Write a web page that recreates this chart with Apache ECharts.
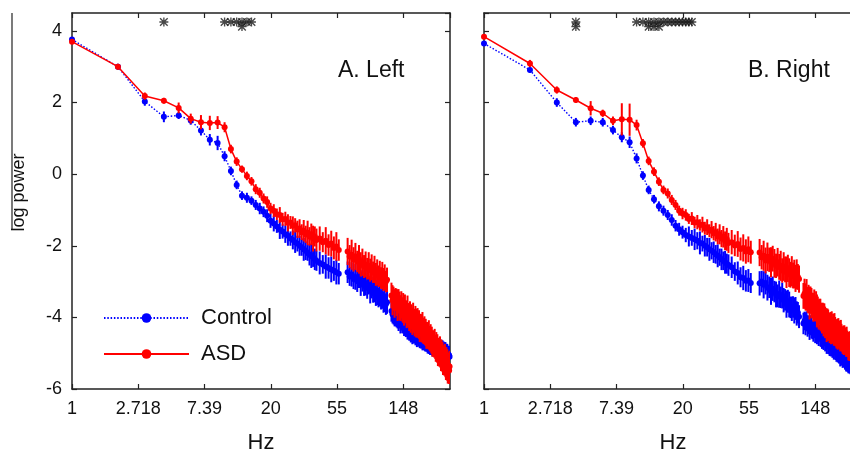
<!DOCTYPE html>
<html><head><meta charset="utf-8">
<script src="https://cdn.jsdelivr.net/npm/echarts@6/dist/echarts.min.js"></script>
<style>html,body{margin:0;padding:0;background:#fff}#c{width:850px;height:452px}</style>
</head><body><div id="c"></div>
<script>
// ---------- data ----------
const xTickLabels = ['1', '2.718', '7.39', '20', '55', '148'];
const seriesNames = ['Control', 'ASD'];
const panelTitles = ['A. Left', 'B. Right'];

const freqs = [
1,2,3,4,5,6,7,8,9,10,
11,12,13,14,15,16,17,18,19,20,
21,22,23,24,25,26,27,28,29,30,
31,32,33,34,35,36,37,38,39,40,
42,44,46,48,50,52,54,56,
64,66,68,70,72,74,76,78,80,82,
84,86,88,90,92,94,96,98,100,102,
104,106,108,110,112,114,116,
124,126,128,130,132,134,136,138,140,142,
144,146,148,150,152,154,156,158,160,162,
164,166,168,170,172,174,176,178,180,182,
184,186,188,190,192,194,196,198,200,202,
204,206,208,210,212,214,216,218,220,222,
224,226,228,230,232,234,236,238,240,242,
244,246,248,250,252,254,256,258,260,262,
264,266,268,270,272,274,276,278,280,282,
284,286,288,290,292,294,296,298];

const leftControl = [
3.76,3.00,2.03,1.60,1.64,1.50,1.22,0.96,0.87,0.50,
0.09,-0.30,-0.60,-0.66,-0.74,-0.86,-0.96,-1.05,-1.16,-1.30,
-1.38,-1.46,-1.55,-1.60,-1.68,-1.72,-1.80,-1.84,-1.90,-1.94,
-2.00,-2.04,-2.10,-2.14,-2.20,-2.25,-2.28,-2.33,-2.38,-2.42,
-2.48,-2.52,-2.58,-2.62,-2.66,-2.70,-2.74,-2.78,
-2.74,-2.86,-2.80,-2.93,-2.87,-2.99,-2.92,-3.06,-2.98,-3.12,
-3.05,-3.18,-3.10,-3.25,-3.17,-3.31,-3.24,-3.38,-3.30,-3.44,
-3.37,-3.50,-3.42,-3.57,-3.49,-3.63,-3.58,
-3.82,-3.91,-3.86,-3.97,-3.93,-4.02,-3.97,-4.08,-4.03,-4.13,
-4.07,-4.18,-4.13,-4.24,-4.18,-4.29,-4.24,-4.34,-4.29,-4.39,
-4.34,-4.44,-4.37,-4.47,-4.40,-4.49,-4.42,-4.52,-4.45,-4.55,
-4.48,-4.58,-4.50,-4.60,-4.53,-4.63,-4.56,-4.66,-4.58,-4.68,
-4.62,-4.71,-4.64,-4.74,-4.67,-4.77,-4.71,-4.80,-4.74,-4.81,
-4.75,-4.83,-4.77,-4.85,-4.78,-4.86,-4.80,-4.87,-4.81,-4.89,
-4.82,-4.90,-4.84,-4.91,-4.85,-4.92,-4.86,-4.93,-4.87,-4.94,
-4.89,-4.95,-4.90,-4.97,-4.91,-4.98,-4.93,-4.99,-4.95,-5.01,
-4.98,-5.04,-5.00,-5.07,-5.03,-5.09,-5.06,-5.10];
const leftControlErr = [
0.06,0.08,0.12,0.15,0.10,0.12,0.14,0.16,0.20,0.14,
0.12,0.12,0.12,0.14,0.12,0.14,0.16,0.15,0.18,0.20,
0.22,0.18,0.26,0.20,0.24,0.28,0.20,0.26,0.30,0.22,
0.28,0.24,0.32,0.26,0.22,0.30,0.34,0.26,0.30,0.28,
0.32,0.26,0.34,0.30,0.36,0.28,0.34,0.30,
0.30,0.26,0.34,0.28,0.36,0.30,0.26,0.34,0.30,0.28,
0.34,0.30,0.26,0.36,0.30,0.28,0.34,0.30,0.36,0.28,
0.32,0.28,0.34,0.30,0.36,0.30,0.32,
0.30,0.26,0.34,0.28,0.32,0.26,0.34,0.30,0.28,0.32,
0.30,0.26,0.32,0.28,0.34,0.26,0.30,0.28,0.32,0.26,
0.30,0.26,0.32,0.28,0.30,0.24,0.30,0.26,0.32,0.28,
0.28,0.24,0.30,0.26,0.28,0.24,0.30,0.26,0.28,0.24,
0.28,0.24,0.28,0.22,0.28,0.24,0.26,0.22,0.28,0.24,
0.26,0.22,0.28,0.24,0.26,0.22,0.28,0.24,0.26,0.22,
0.26,0.22,0.24,0.20,0.26,0.22,0.24,0.20,0.26,0.22,
0.24,0.20,0.26,0.22,0.24,0.20,0.24,0.22,0.26,0.22,
0.24,0.20,0.26,0.22,0.24,0.22,0.26,0.24];

const leftASD = [
3.70,3.00,2.18,2.05,1.85,1.55,1.45,1.43,1.44,1.31,
0.70,0.35,0.14,-0.05,-0.20,-0.42,-0.52,-0.68,-0.78,-0.96,
-1.02,-1.12,-1.14,-1.26,-1.25,-1.36,-1.35,-1.44,-1.43,-1.54,
-1.52,-1.62,-1.58,-1.68,-1.64,-1.74,-1.68,-1.80,-1.74,-1.84,
-1.80,-1.90,-1.86,-1.98,-1.94,-2.06,-2.02,-2.12,
-2.16,-2.30,-2.25,-2.38,-2.30,-2.44,-2.38,-2.52,-2.46,-2.58,
-2.52,-2.64,-2.56,-2.68,-2.60,-2.74,-2.66,-2.80,-2.74,-2.85,
-2.78,-2.90,-2.83,-2.94,-2.88,-3.00,-2.95,
-3.39,-3.52,-3.48,-3.61,-3.50,-3.58,-3.66,-3.55,-3.68,-3.74,
-3.65,-3.78,-3.74,-3.87,-3.76,-3.84,-3.92,-3.81,-3.94,-4.00,
-3.91,-4.03,-3.99,-4.11,-4.01,-4.08,-4.15,-4.04,-4.16,-4.22,
-4.12,-4.24,-4.20,-4.33,-4.22,-4.29,-4.36,-4.25,-4.37,-4.43,
-4.33,-4.45,-4.42,-4.54,-4.43,-4.50,-4.57,-4.46,-4.58,-4.65,
-4.55,-4.67,-4.64,-4.76,-4.66,-4.73,-4.80,-4.70,-4.82,-4.88,
-4.79,-4.91,-4.87,-5.00,-4.89,-4.96,-5.04,-4.93,-5.05,-5.12,
-5.02,-5.14,-5.11,-5.23,-5.12,-5.20,-5.27,-5.16,-5.29,-5.35,
-5.25,-5.37,-5.33,-5.45,-5.34,-5.41,-5.48,-5.37];
const leftASDErr = [
0.06,0.08,0.10,0.08,0.15,0.14,0.20,0.20,0.18,0.14,
0.12,0.12,0.10,0.12,0.12,0.14,0.14,0.14,0.16,0.16,
0.18,0.16,0.22,0.18,0.20,0.24,0.18,0.26,0.20,0.24,
0.26,0.22,0.30,0.24,0.34,0.26,0.30,0.36,0.28,0.32,
0.34,0.28,0.38,0.30,0.36,0.32,0.40,0.30,
0.38,0.32,0.42,0.34,0.38,0.30,0.40,0.34,0.38,0.32,
0.36,0.30,0.38,0.32,0.36,0.30,0.38,0.32,0.36,0.30,
0.36,0.30,0.38,0.32,0.36,0.30,0.34,
0.36,0.42,0.34,0.40,0.32,0.38,0.44,0.34,0.40,0.36,
0.38,0.34,0.42,0.36,0.40,0.32,0.38,0.42,0.34,0.38,
0.36,0.40,0.34,0.38,0.42,0.32,0.38,0.36,0.40,0.34,
0.38,0.34,0.40,0.36,0.32,0.38,0.34,0.40,0.36,0.32,
0.36,0.32,0.38,0.34,0.30,0.36,0.32,0.38,0.34,0.30,
0.36,0.32,0.38,0.34,0.30,0.36,0.32,0.38,0.34,0.36,
0.38,0.34,0.40,0.36,0.32,0.38,0.34,0.40,0.36,0.38,
0.40,0.36,0.42,0.38,0.34,0.40,0.36,0.42,0.38,0.40,
0.42,0.38,0.44,0.40,0.36,0.42,0.38,0.44];

const rightControl = [
3.65,2.91,2.00,1.45,1.49,1.45,1.23,1.03,0.89,0.44,
-0.04,-0.44,-0.70,-0.90,-1.02,-1.14,-1.28,-1.44,-1.54,-1.62,
-1.70,-1.74,-1.78,-1.82,-1.86,-1.92,-1.94,-2.00,-2.04,-2.10,
-2.14,-2.18,-2.24,-2.28,-2.32,-2.38,-2.42,-2.46,-2.50,-2.54,
-2.60,-2.72,-2.76,-2.88,-2.90,-2.98,-2.97,-3.04,
-3.05,-3.00,-3.09,-3.04,-3.17,-3.16,-3.27,-3.20,-3.28,-3.36,
-3.40,-3.35,-3.44,-3.39,-3.52,-3.51,-3.63,-3.55,-3.64,-3.72,
-3.76,-3.71,-3.81,-3.75,-3.89,-3.87,-3.98,
-4.17,-4.10,-4.18,-4.11,-4.24,-4.21,-4.31,-4.22,-4.29,-4.35,
-4.38,-4.32,-4.40,-4.33,-4.45,-4.42,-4.52,-4.44,-4.51,-4.57,
-4.60,-4.53,-4.61,-4.54,-4.67,-4.64,-4.74,-4.65,-4.72,-4.77,
-4.80,-4.73,-4.81,-4.73,-4.85,-4.82,-4.92,-4.82,-4.89,-4.95,
-4.98,-4.90,-4.98,-4.91,-5.03,-5.00,-5.09,-5.00,-5.07,-5.13,
-5.15,-5.08,-5.16,-5.09,-5.20,-5.17,-5.27,-5.18,-5.25,-5.30,
-5.32,-5.24,-5.31,-5.24,-5.35,-5.31,-5.40,-5.30,-5.37,-5.42,
-5.44,-5.36,-5.43,-5.36,-5.47,-5.43,-5.52,-5.42,-5.49,-5.54,
-5.56,-5.48,-5.55,-5.48,-5.59,-5.55,-5.64,-5.55];
const rightControlErr = [
0.06,0.08,0.12,0.12,0.12,0.12,0.12,0.14,0.16,0.14,
0.12,0.12,0.12,0.14,0.14,0.14,0.16,0.16,0.18,0.18,
0.20,0.28,0.22,0.30,0.24,0.32,0.22,0.30,0.26,0.32,
0.24,0.30,0.26,0.32,0.24,0.30,0.26,0.32,0.28,0.30,
0.30,0.26,0.32,0.28,0.34,0.30,0.32,0.28,
0.34,0.30,0.38,0.32,0.36,0.30,0.38,0.34,0.30,0.36,
0.32,0.38,0.30,0.36,0.34,0.30,0.38,0.32,0.36,0.30,
0.34,0.30,0.36,0.32,0.34,0.30,0.32,
0.30,0.26,0.32,0.28,0.30,0.26,0.32,0.28,0.30,0.26,
0.30,0.26,0.32,0.28,0.30,0.26,0.28,0.24,0.30,0.26,
0.28,0.24,0.30,0.26,0.28,0.24,0.28,0.24,0.30,0.26,
0.28,0.24,0.28,0.22,0.28,0.24,0.26,0.22,0.28,0.24,
0.26,0.22,0.28,0.24,0.26,0.22,0.28,0.24,0.26,0.22,
0.26,0.22,0.24,0.20,0.26,0.22,0.24,0.20,0.26,0.22,
0.24,0.20,0.26,0.22,0.24,0.20,0.26,0.22,0.24,0.20,
0.24,0.20,0.26,0.22,0.24,0.20,0.26,0.22,0.24,0.20,
0.24,0.20,0.26,0.22,0.24,0.20,0.26,0.22];

const rightASD = [
3.84,3.09,2.35,2.07,1.84,1.70,1.49,1.53,1.52,1.37,
0.86,0.37,0.07,-0.21,-0.44,-0.54,-0.72,-0.86,-1.02,-1.10,
-1.14,-1.25,-1.24,-1.35,-1.34,-1.42,-1.41,-1.51,-1.48,-1.58,
-1.55,-1.65,-1.62,-1.74,-1.68,-1.80,-1.75,-1.86,-1.82,-1.92,
-1.90,-1.99,-1.95,-2.09,-2.06,-2.16,-2.10,-2.18,
-2.19,-2.32,-2.28,-2.41,-2.31,-2.39,-2.46,-2.36,-2.49,-2.56,
-2.46,-2.59,-2.56,-2.69,-2.58,-2.66,-2.74,-2.63,-2.75,-2.81,
-2.71,-2.83,-2.79,-2.91,-2.80,-2.87,-2.93,
-3.40,-3.34,-3.43,-3.37,-3.51,-3.49,-3.60,-3.52,-3.60,-3.67,
-3.72,-3.66,-3.75,-3.69,-3.82,-3.80,-3.92,-3.84,-3.92,-3.99,
-4.03,-3.97,-4.07,-4.01,-4.14,-4.12,-4.23,-4.15,-4.22,-4.27,
-4.30,-4.23,-4.31,-4.23,-4.35,-4.32,-4.41,-4.32,-4.39,-4.45,
-4.47,-4.40,-4.48,-4.40,-4.52,-4.49,-4.59,-4.49,-4.56,-4.62,
-4.64,-4.57,-4.65,-4.58,-4.69,-4.66,-4.76,-4.66,-4.73,-4.79,
-4.82,-4.74,-4.82,-4.75,-4.86,-4.83,-4.93,-4.83,-4.90,-4.95,
-4.98,-4.91,-4.98,-4.91,-5.02,-4.99,-5.09,-4.99,-5.06,-5.11,
-5.14,-5.07,-5.14,-5.07,-5.18,-5.15,-5.25,-5.15];
const rightASDErr = [
0.06,0.10,0.10,0.08,0.20,0.10,0.12,0.45,0.45,0.15,
0.12,0.12,0.12,0.12,0.12,0.14,0.14,0.14,0.14,0.16,
0.16,0.14,0.18,0.16,0.20,0.16,0.22,0.18,0.22,0.18,
0.24,0.20,0.26,0.22,0.28,0.24,0.30,0.26,0.32,0.28,
0.34,0.30,0.36,0.32,0.38,0.34,0.36,0.32,
0.38,0.34,0.42,0.36,0.40,0.34,0.42,0.36,0.40,0.34,
0.40,0.36,0.42,0.34,0.40,0.36,0.44,0.38,0.40,0.36,
0.42,0.36,0.40,0.38,0.42,0.36,0.38,
0.36,0.42,0.38,0.44,0.36,0.40,0.46,0.38,0.42,0.36,
0.40,0.44,0.36,0.42,0.46,0.38,0.42,0.36,0.44,0.40,
0.42,0.38,0.46,0.40,0.44,0.38,0.46,0.40,0.44,0.38,
0.42,0.38,0.44,0.40,0.36,0.42,0.38,0.44,0.40,0.36,
0.40,0.36,0.42,0.38,0.34,0.40,0.36,0.42,0.38,0.34,
0.38,0.34,0.40,0.36,0.32,0.38,0.34,0.40,0.36,0.32,
0.38,0.34,0.40,0.36,0.32,0.38,0.34,0.40,0.36,0.32,
0.38,0.34,0.40,0.36,0.32,0.38,0.34,0.40,0.36,0.32,
0.38,0.34,0.40,0.36,0.32,0.38,0.34,0.40];

// significance markers (Hz) and the heights they are drawn at
const sigLeftUpper = [4, 10, 11, 12, 13, 14, 15];
const sigLeftLower = [13];
const sigRightUpper = [4, 10, 11, 12, 13, 14, 15, 16, 17, 18, 19, 20, 21, 22, 23];
const sigRightLower = [4, 12, 13, 14];
const sigLevels = [4.25, 4.12];

// ---------- build ----------
[leftControl, leftControlErr, leftASD, leftASDErr, rightControl, rightControlErr, rightASD, rightASDErr]
  .forEach((a, i) => { if (a.length !== freqs.length) console.error('length mismatch', i, a.length, freqs.length); });

const FONT = '"Liberation Sans", Arial, Helvetica, sans-serif';
const BLUE = '#0000ff', RED = '#ff0000', AX = '#222';
const STAR = 'path://M5.1,0H6.9V12H5.1Z M0,5.1H12V6.9H0Z M1.6,0.3L11.7,10.4L10.4,11.7L0.3,1.6Z M10.4,0.3L11.7,1.6L1.6,11.7L0.3,10.4Z';

function lineData(vals) {
  const out = [];
  for (let i = 0; i < freqs.length; i++) {
    if (i > 0 && freqs[i] - freqs[i - 1] > 3) out.push([(freqs[i] + freqs[i - 1]) / 2, '-']);
    out.push([freqs[i], vals[i]]);
  }
  return out;
}
function errData(vals, errs) {
  return freqs.map((f, i) => [f, vals[i] - errs[i], vals[i] + errs[i]]);
}
function errSeries(name, vals, errs, color, xi, yi, z) {
  return {
    name: name, type: 'custom', xAxisIndex: xi, yAxisIndex: yi, z: z, clip: true,
    encode: { x: 0, y: [1, 2] }, silent: true,
    data: errData(vals, errs),
    renderItem: function (params, api) {
      const a = api.coord([api.value(0), api.value(1)]);
      const b = api.coord([api.value(0), api.value(2)]);
      return { type: 'line', shape: { x1: a[0], y1: a[1], x2: b[0], y2: b[1] },
               style: { stroke: color, lineWidth: 2 } };
    }
  };
}
function lineSeries(name, vals, color, dotted, xi, yi, z) {
  return {
    name: name, type: 'line', xAxisIndex: xi, yAxisIndex: yi, z: z,
    data: lineData(vals), symbol: 'circle', symbolSize: 6, showAllSymbol: true,
    connectNulls: false, silent: true,
    lineStyle: { color: color, width: dotted ? 1.4 : 1.5, type: dotted ? [1.5, 1.8] : 'solid' },
    itemStyle: { color: color }
  };
}
function starSeries(freqList, level, xi, yi) {
  return {
    type: 'scatter', xAxisIndex: xi, yAxisIndex: yi, z: 6, silent: true,
    symbol: STAR, symbolSize: 9, itemStyle: { color: '#1a1a1a' },
    data: freqList.map(f => [f, level])
  };
}

function xLabel(v) {
  const k = Math.log(v);
  const r = Math.round(k);
  return (Math.abs(k - r) < 1e-6 && r >= 0 && r < xTickLabels.length) ? xTickLabels[r] : '';
}
function yLabel(v) {
  return Math.abs(v % 2) < 1e-9 ? String(v) : '';
}

const axLine = { onZero: false, lineStyle: { color: AX, width: 1.5 } };
const axTick = { inside: true, length: 5, lineStyle: { color: AX, width: 1.2 } };

function xAxes(gi) {
  return [
    { gridIndex: gi, type: 'log', logBase: Math.E, min: 1, max: 300, position: 'bottom',
      axisLine: axLine, axisTick: axTick, splitLine: { show: false }, minorTick: { show: false },
      axisLabel: { formatter: xLabel, fontSize: 18, color: '#111', fontFamily: FONT, margin: 11, showMaxLabel: false },
      name: 'Hz', nameLocation: 'middle', nameGap: 43, nameMoveOverlap: false,
      nameTextStyle: { fontSize: 22, color: '#111', fontFamily: FONT } },
    { gridIndex: gi, type: 'log', logBase: Math.E, min: 1, max: 300, position: 'top',
      axisLine: axLine, axisTick: axTick, splitLine: { show: false }, axisLabel: { show: false } }
  ];
}
function yAxes(gi, withLabels) {
  const main = { gridIndex: gi, type: 'value', min: -6, max: 4.5, interval: 2, position: 'left',
    axisLine: { show: true, onZero: false, lineStyle: { color: AX, width: 1.5 } },
    axisTick: { show: true, inside: true, length: 5, lineStyle: { color: AX, width: 1.2 } },
    splitLine: { show: false },
    axisLabel: withLabels ? { formatter: yLabel, fontSize: 18, color: '#111', fontFamily: FONT, margin: 10, showMaxLabel: false } : { show: false } };
  if (withLabels) {
    Object.assign(main, { name: 'log power', nameLocation: 'middle', nameGap: 44, nameRotate: 90, nameMoveOverlap: false,
      nameTextStyle: { fontSize: 18, color: '#111', fontFamily: FONT, padding: [0, 0, 0, 17] } });
  }
  const mirror = { gridIndex: gi, type: 'value', min: -6, max: 4.5, interval: 2, position: 'right',
    axisLine: { show: true, onZero: false, lineStyle: { color: AX, width: 1.5 } },
    axisTick: { show: true, inside: true, length: 5, lineStyle: { color: AX, width: 1.2 } },
    splitLine: { show: false }, axisLabel: { show: false } };
  return [main, mirror];
}

const panels = [
  { ctrl: leftControl, ctrlErr: leftControlErr, asd: leftASD, asdErr: leftASDErr, sigU: sigLeftUpper, sigL: sigLeftLower },
  { ctrl: rightControl, ctrlErr: rightControlErr, asd: rightASD, asdErr: rightASDErr, sigU: sigRightUpper, sigL: sigRightLower }
];
const series = [];
panels.forEach((p, gi) => {
  const xi = gi * 2, yi = gi * 2;
  series.push(errSeries('Control err', p.ctrl, p.ctrlErr, BLUE, xi, yi, 2));
  series.push(lineSeries(seriesNames[0], p.ctrl, BLUE, true, xi, yi, 3));
  series.push(errSeries('ASD err', p.asd, p.asdErr, RED, xi, yi, 4));
  series.push(lineSeries(seriesNames[1], p.asd, RED, false, xi, yi, 5));
  series.push(starSeries(p.sigU, sigLevels[0], xi, yi));
  series.push(starSeries(p.sigL, sigLevels[1], xi, yi));
});

const option = {
  animation: false,
  backgroundColor: '#fff',
  grid: [
    { left: 72, top: 13, width: 378, height: 376, outerBoundsMode: 'none', containLabel: false },
    { left: 484, top: 13, width: 378, height: 376, outerBoundsMode: 'none', containLabel: false }
  ],
  xAxis: xAxes(0).concat(xAxes(1)),
  yAxis: yAxes(0, true).concat(yAxes(1, false)),
  legend: {
    data: seriesNames, orient: 'vertical', left: 98, top: 302,
    itemWidth: 85, itemHeight: 12, itemGap: 14, selectedMode: false,
    textStyle: { fontSize: 22, color: '#111', fontFamily: FONT, padding: [0, 0, 0, 7] }
  },
  graphic: [
    { type: 'text', left: 338, top: 59, style: { text: panelTitles[0], fontSize: 23, fill: '#111', fontFamily: FONT } },
    { type: 'text', left: 748, top: 59, style: { text: panelTitles[1], fontSize: 23, fill: '#111', fontFamily: FONT } },
    { type: 'line', shape: { x1: 12, y1: 13, x2: 12, y2: 230 }, style: { stroke: AX, lineWidth: 1.2 } }
  ],
  series: series
};

const chart = echarts.init(document.getElementById('c'), null, { renderer: 'canvas' });
chart.setOption(option);
</script>
</body></html>
